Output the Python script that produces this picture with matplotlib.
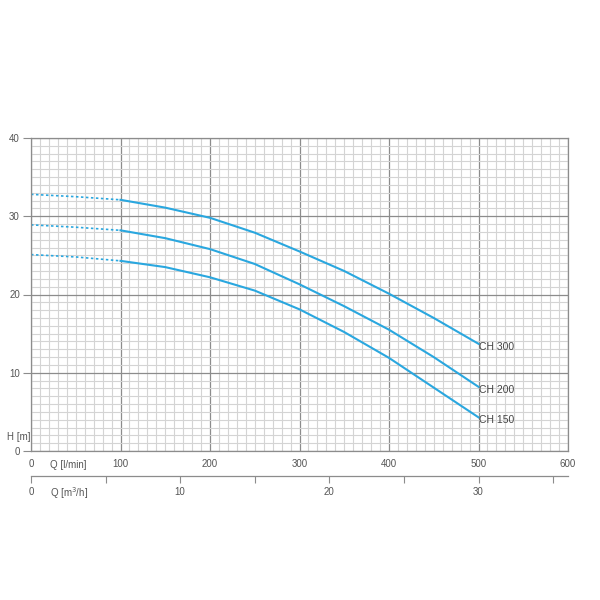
import numpy as np
import matplotlib.pyplot as plt

plt.rcParams['font.family'] = ['Liberation Sans', 'DejaVu Sans']

# flow in l/min, head in m
q_dash = [0, 50, 100]
q_solid = [100, 150, 200, 250, 300, 350, 400, 450, 500]

ch300_dash = [32.8, 32.5, 32.1]
ch300 = [32.1, 31.1, 29.8, 27.9, 25.5, 23.0, 20.1, 17.0, 13.7]
ch200_dash = [28.9, 28.6, 28.2]
ch200 = [28.2, 27.2, 25.8, 23.9, 21.3, 18.5, 15.5, 12.0, 8.2]
ch150_dash = [25.1, 24.8, 24.3]
ch150 = [24.3, 23.5, 22.2, 20.5, 18.1, 15.2, 11.9, 8.1, 4.3]

names = ["CH 300", "CH 200", "CH 150"]
blue = "#2aa7df"
txt = "#555555"

fig = plt.figure(figsize=(6, 6), dpi=100)
ax = fig.add_axes([31/600, 149/600, 537/600, 313/600])

ax.set_xlim(0, 600)
ax.set_ylim(0, 40)
ax.set_xticks(np.arange(0, 601, 10), minor=True)
ax.set_yticks(np.arange(0, 41, 1), minor=True)
ax.set_xticks(np.arange(0, 601, 100))
ax.set_yticks(np.arange(0, 41, 10))
ax.grid(which="minor", color="#d4d4d4", linewidth=0.8)
ax.grid(which="major", color="#8c8c8c", linewidth=0.9)
ax.set_axisbelow(True)
for s in ax.spines.values():
    s.set_color("#8c8c8c")
    s.set_linewidth(0.9)
ax.tick_params(axis="x", which="both", length=0, pad=6, labelsize=7, labelcolor=txt)
ax.tick_params(axis="y", which="major", length=6, color="#8c8c8c", pad=2, labelsize=7, labelcolor=txt)
ax.tick_params(axis="y", which="minor", length=0)

for dash, solid, name in zip([ch300_dash, ch200_dash, ch150_dash],
                             [ch300, ch200, ch150], names):
    ax.plot(q_dash, dash, color=blue, linewidth=1.2, linestyle=(0, (1.5, 1.5)))
    ax.plot(q_solid, solid, color=blue, linewidth=1.5)
    ax.text(q_solid[-1] + 1, solid[-1] - 0.4, name, fontsize=7.5, color="#444444",
            va="center", ha="left")

ax.text(-0.045, 0.045, "H [m]", transform=ax.transAxes, fontsize=7, color=txt,
        ha="left", va="center")
ax.text(0.035, -0.045, "Q [l/min]", transform=ax.transAxes, fontsize=7, color=txt,
        ha="left", va="center")

# second flow scale in m3/h
ax2 = fig.add_axes([31/600, 124/600, 537/600, 0.0001])
ax2.set_xlim(0, 36)
ax2.set_yticks([])
for k in ["top", "left", "right"]:
    ax2.spines[k].set_visible(False)
ax2.spines["bottom"].set_color("#8c8c8c")
ax2.spines["bottom"].set_linewidth(0.9)
ax2.set_xticks(np.arange(0, 36, 5))
ax2.set_xticklabels(["0", "", "10", "", "20", "", "30", ""])
ax2.tick_params(axis="x", length=5, color="#8c8c8c", pad=3, labelsize=7, labelcolor=txt)
ax2.annotate("Q [m$^3$/h]", xy=(0.035, 0), xycoords="axes fraction",
             xytext=(0, -12), textcoords="offset points",
             fontsize=7, color=txt, ha="left", va="center")

fig.savefig("out.png")
